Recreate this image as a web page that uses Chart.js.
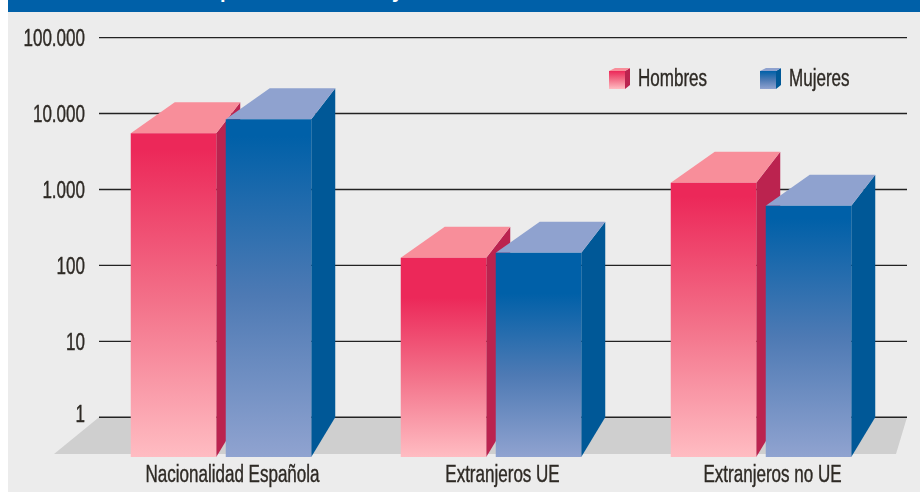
<!DOCTYPE html>
<html>
<head>
<meta charset="utf-8">
<script src="https://cdn.jsdelivr.net/npm/chart.js@4"></script>
<style>
body { margin: 0; background: #fff; }
#wrap { position: relative; width: 920px; height: 492px; overflow: hidden; }
#panel { position: absolute; left: 8px; top: 12px; right: 0; bottom: 0; background: #ececec; }
#band { position: absolute; left: 8px; top: 0; right: 0; height: 12px; background: #0060a8; overflow: hidden; }
#band span { position: absolute; top: -19px; color: #fff; font: bold 20px/20px "Liberation Sans", sans-serif; }
canvas { position: absolute; left: 0; top: 0; }
</style>
</head>
<body>
<div id="wrap">
  <div id="panel"></div>
  <div id="band"><span style="left:212px">p</span><span style="left:384px">y</span></div>
  <canvas id="chart" width="920" height="492"></canvas>
</div>
<script>
const categories = ['Nacionalidad Española', 'Extranjeros UE', 'Extranjeros no UE'];
const hombres = [5500, 126, 1225];
const mujeres = [8400, 147, 610];
const tickValues = [1, 10, 100, 1000, 10000, 100000];
const tickLabels = ['1', '10', '100', '1.000', '10.000', '100.000'];

const FONT = '"Liberation Sans", sans-serif';
const TEXT = '#2e2a25';
const BASE = 0.304; // axis floor, the bars stand a bit below the "1" line

function barGradient(c, colors) {
    const chart = c.chart;
    if (!chart.chartArea || c.raw === undefined) return colors[0];
    const top = chart.scales.y.getPixelForValue(c.raw);
    const bottom = chart.chartArea.bottom;
    const hold = bottom - top < 220 ? 0.2 : 0.05; // short bars keep the solid colour longer
    const g = chart.ctx.createLinearGradient(0, top, 0, bottom);
    g.addColorStop(0, colors[0]);
    g.addColorStop(hold, colors[0]);
    g.addColorStop((hold + 1) / 2, colors[1]);
    g.addColorStop(1, colors[2]);
    return g;
}

function poly(ctx, pts, fill) {
    ctx.beginPath();
    pts.forEach((p, i) => i ? ctx.lineTo(p[0], p[1]) : ctx.moveTo(p[0], p[1]));
    ctx.closePath();
    ctx.fillStyle = fill;
    ctx.fill();
}

// no condensed font is installed, so squeeze the text sideways
function narrowText(ctx, text, x, y, align) {
    ctx.save();
    ctx.translate(x, y);
    ctx.scale(0.74, 1);
    ctx.fillStyle = TEXT;
    ctx.strokeStyle = TEXT;
    ctx.lineWidth = 0.4;
    ctx.font = '23px ' + FONT;
    ctx.textBaseline = 'middle';
    ctx.textAlign = align;
    ctx.fillText(text, 0, 0);
    ctx.strokeText(text, 0, 0);
    ctx.restore();
}

const stage = {
    id: 'stage',
    beforeDatasetsDraw(chart) {
        const { ctx, chartArea, scales } = chart;
        const one = scales.y.getPixelForValue(1);
        poly(ctx, [
            [chartArea.left - 32, chartArea.bottom - 3],
            [chartArea.left + 13, one],
            [chartArea.right + 11, one],
            [chartArea.right, chartArea.bottom - 3]
        ], '#cfcfcf');
        ctx.strokeStyle = '#222';
        ctx.lineWidth = 1.4;
        tickValues.forEach((v, i) => {
            const y = scales.y.getPixelForValue(v);
            ctx.beginPath();
            ctx.moveTo(chartArea.left + 13, y);
            ctx.lineTo(chartArea.right + 11, y);
            ctx.stroke();
            narrowText(ctx, tickLabels[i], chartArea.left - 1, (v === 1 ? y - 4 : y) + 2, 'right');
        });
        categories.forEach((name, i) => {
            narrowText(ctx, name, scales.x.getPixelForTick(i) + 11.5, chartArea.bottom + 19, 'center');
        });
        // Hombres has to go under Mujeres, the default order is the other way
        chart.data.datasets.forEach((ds, i) => {
            const meta = chart.getDatasetMeta(i);
            meta.data.forEach(bar => {
                const l = bar.x - bar.width / 2, r = bar.x + bar.width / 2, t = bar.y;
                poly(ctx, [[r, t], [r + 24, t - 31], [r + 24, one], [r, chartArea.bottom]], ds.sideColor);
                poly(ctx, [[l, t], [l + 44, t - 31], [r + 24, t - 31], [r, t]], ds.topColor);
            });
            meta.controller.draw();
        });
        return false;
    },
    // legend with little boxes
    afterDraw(chart) {
        const { ctx } = chart;
        chart.data.datasets.forEach((ds, i) => {
            const x = 609 + i * 151, y = 71, w = 16, h = 18;
            poly(ctx, [[x + w, y], [x + w + 5, y - 3], [x + w + 5, y + h - 4], [x + w, y + h]], ds.sideColor);
            poly(ctx, [[x, y], [x + 6, y - 3], [x + w + 5, y - 3], [x + w, y]], ds.topColor);
            const g = ctx.createLinearGradient(0, y, 0, y + h);
            g.addColorStop(0, ds.colors[0]);
            g.addColorStop(0.5, ds.colors[1]);
            g.addColorStop(1, ds.colors[2]);
            ctx.fillStyle = g;
            ctx.fillRect(x, y, w, h);
            narrowText(ctx, ds.label, x + 29, y + 9, 'left');
        });
    }
};

const rojos = ['#ec2859', '#f3728a', '#ffbcc2'];
const azules = ['#0060a8', '#4e7ab4', '#90a3d0'];

new Chart(document.getElementById('chart'), {
    type: 'bar',
    data: {
        labels: categories,
        datasets: [
            {
                label: 'Hombres',
                data: hombres,
                colors: rojos,
                topColor: '#f88e9a',
                sideColor: '#bb234f',
                backgroundColor: c => barGradient(c, rojos)
            },
            {
                label: 'Mujeres',
                data: mujeres,
                colors: azules,
                topColor: '#8fa2cf',
                sideColor: '#005897',
                backgroundColor: c => barGradient(c, azules)
            }
        ]
    },
    plugins: [stage],
    options: {
        responsive: false,
        animation: false,
        categoryPercentage: 0.7037,
        barPercentage: 0.9,
        layout: { padding: { top: 37.6, right: 24, left: 0, bottom: 0 } },
        plugins: { legend: { display: false }, tooltip: { enabled: false } },
        scales: {
            x: {
                grid: { display: false },
                border: { display: false },
                ticks: { display: false },
                afterFit: s => { s.height = 35; }
            },
            y: {
                type: 'logarithmic',
                min: BASE,
                max: 100000,
                grid: { display: false, drawTicks: false },
                border: { display: false },
                ticks: { display: false },
                afterBuildTicks: s => { s.ticks = tickValues.map(v => ({ value: v, major: true })); },
                afterFit: s => { s.width = 86; }
            }
        }
    }
});
</script>
</body>
</html>
